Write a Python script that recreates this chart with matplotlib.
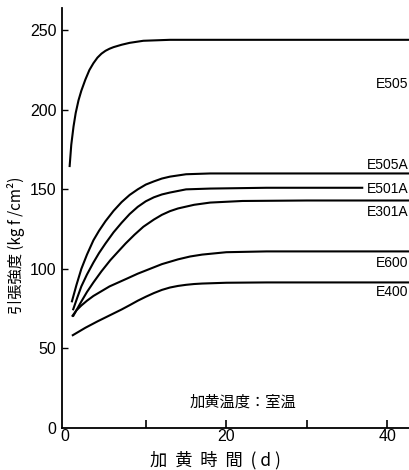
import matplotlib
matplotlib.use('Agg')
import matplotlib.pyplot as plt

plt.rcParams['font.family'] = ['Noto Sans CJK JP', 'DejaVu Sans']

# 加黄時間 (d) と 引張強度 (kgf/cm2) の読み取り値
e505_d = [0.54, 0.75, 1.03, 1.3, 1.65, 2.0, 2.5, 3.0, 3.5, 4.0, 4.5, 5.0, 5.5, 6.0, 7.0, 8.0, 9.7, 13, 20, 42.7]
e505_v = [164, 178, 189.5, 198, 206, 212, 219, 225, 229.3, 232.8, 235.3, 237.1, 238.4, 239.4, 240.9, 242.1, 243.4, 244, 244, 244]

e505a_d = [0.8, 1.4, 2, 2.7, 3.5, 4.2, 5, 6, 7, 8, 9, 10, 11, 12, 13, 15, 18, 25, 42.7]
e505a_v = [79, 90, 100, 109, 118, 124, 130, 136.5, 142, 146.5, 150, 153, 155, 156.8, 158, 159.5, 160, 160, 160]

e501a_d = [0.95, 1.5, 2, 2.7, 3.5, 4.2, 5, 6, 7, 8, 9, 10, 11, 12, 13, 15, 18, 25, 37]
e501a_v = [74, 82, 89, 96.5, 104, 110, 116, 123, 129, 134.5, 139, 142.5, 145, 146.8, 148, 150, 150.5, 151, 151]

e301a_d = [0.95, 1.5, 2, 2.7, 3.5, 4.5, 5.6, 6.5, 7.5, 8.6, 9.7, 11, 12, 13, 14, 16, 18, 22, 30, 42.7]
e301a_v = [70, 75, 79.5, 85.5, 91.5, 98.5, 105.5, 110.5, 116, 121.5, 126.5, 131, 134, 136.3, 138, 140.3, 141.7, 142.7, 143, 143]

e600_d = [0.83, 1.4, 2, 2.7, 3.5, 4.5, 5.5, 6.6, 7.7, 9, 10, 11, 12, 13, 14, 15.5, 17, 20, 25, 42.7]
e600_v = [70, 74, 77, 80, 83, 86, 89, 91.5, 94, 97, 99, 101, 103, 104.5, 106, 107.8, 109, 110.5, 111, 111]

e400_d = [0.83, 2.5, 4, 5.6, 7, 8, 9, 10, 11, 12, 13, 14, 15, 16, 17, 20, 25, 42.7]
e400_v = [58, 63, 67, 71, 74.5, 77.2, 80, 82.5, 84.8, 86.8, 88.3, 89.3, 90, 90.5, 90.8, 91.3, 91.5, 91.5]

series = [
    ('E505', e505_d, e505_v, 216),
    ('E505A', e505a_d, e505a_v, 165.5),
    ('E501A', e501a_d, e501a_v, 150.5),
    ('E301A', e301a_d, e301a_v, 136),
    ('E600', e600_d, e600_v, 104),
    ('E400', e400_d, e400_v, 85.5),
]

num_font = ['Liberation Sans', 'DejaVu Sans']

fig = plt.figure(figsize=(4.1, 4.7), dpi=100)
ax = fig.add_axes([62 / 410, 1 - 428 / 470, 348 / 410, 420 / 470])

for name, d, v, ly in series:
    ax.plot(d, v, color='black', lw=1.5, solid_capstyle='butt')
    ax.text(42.6, ly, name, ha='right', va='center', fontsize=10,
            family=num_font)

ax.set_xlim(-0.4, 42.8)
ax.set_ylim(0, 264)
ax.spines['top'].set_visible(False)
ax.spines['right'].set_visible(False)
ax.spines['left'].set_linewidth(1.3)
ax.spines['bottom'].set_linewidth(1.3)

ax.set_xticks([0, 20, 40])
ax.set_xticks([10, 30], minor=True)
ax.tick_params(axis='x', which='both', direction='in', length=6, width=1.2,
               labelsize=11.5, pad=1, labelfontfamily='Liberation Sans')
ax.set_yticks([0, 50, 100, 150, 200, 250])
ax.tick_params(axis='y', direction='in', length=4, width=1, labelsize=11.5,
               pad=4, labelfontfamily='Liberation Sans')
ax.yaxis.get_major_ticks()[0].tick1line.set_visible(False)
ax.xaxis.get_major_ticks()[0].tick1line.set_visible(False)

ax.set_ylabel('引張強度 (kg f /cm²)', fontsize=11)
ax.yaxis.set_label_coords(-0.105, 0.435)
ax.set_xlabel('加  黄  時  間  ( d )', fontsize=12.5)
ax.xaxis.set_label_coords(0.44, -0.055)

ax.text(22, 16, '加黄温度：室温', ha='center', va='center', fontsize=11)

plt.savefig('out.png', dpi=100)
